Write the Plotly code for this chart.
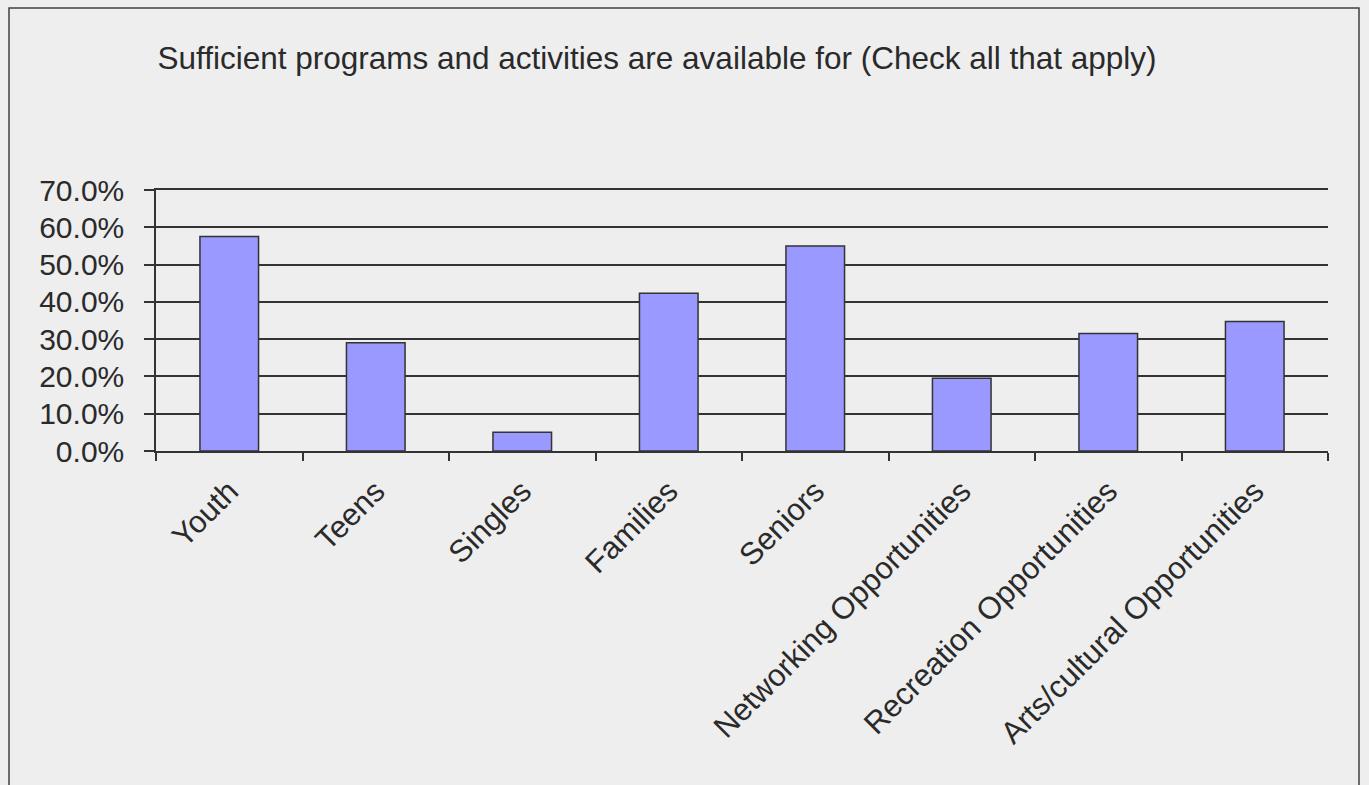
import plotly.graph_objects as go

# Survey responses: share of respondents checking each group
categories = [
    "Youth",
    "Teens",
    "Singles",
    "Families",
    "Seniors",
    "Networking Opportunities",
    "Recreation Opportunities",
    "Arts/cultural Opportunities",
]
shares = [0.575, 0.290, 0.050, 0.423, 0.550, 0.195, 0.315, 0.347]

y_ticks = [0.0, 0.1, 0.2, 0.3, 0.4, 0.5, 0.6, 0.7]

title_text = "Sufficient programs and activities are available for (Check all that apply)"

FONT = "Liberation Sans, Arial, sans-serif"
INK = "#2a2a2a"
LINE = "#333333"
BG = "#eeeeee"

W, H = 1369, 785
L, R, T, B = 156, 41, 190, 334
pw, ph = W - L - R, H - T - B

fig = go.Figure(
    go.Bar(
        x=categories,
        y=shares,
        width=0.4,
        marker=dict(color="#9999ff", line=dict(color=LINE, width=1.5)),
        hoverinfo="x+y",
    )
)

# Outer chart frame (left, top and right edges visible)
def px_to_paper_x(px):
    return (px - L) / pw

def px_to_paper_y(py):
    return (H - B - py) / ph

fig.add_shape(
    type="rect",
    xref="paper",
    yref="paper",
    x0=px_to_paper_x(9),
    x1=px_to_paper_x(1359),
    y0=px_to_paper_y(820),
    y1=px_to_paper_y(8),
    line=dict(color="#404040", width=1.5),
    fillcolor="rgba(0,0,0,0)",
    layer="below",
)

fig.update_layout(
    width=W,
    height=H,
    margin=dict(l=L, r=R, t=T, b=B, autoexpand=False),
    paper_bgcolor=BG,
    plot_bgcolor=BG,
    showlegend=False,
    font=dict(family=FONT, size=30, color=INK),
    title=dict(
        text=title_text,
        x=657 / W,
        xref="container",
        xanchor="center",
        y=1 - 58 / H,
        yref="container",
        yanchor="middle",
        font=dict(family=FONT, size=31.5, color=INK),
    ),
    bargap=0.6,
)

fig.update_xaxes(
    type="category",
    tickangle=-45,
    showline=True,
    mirror=True,
    linecolor=LINE,
    linewidth=1.5,
    ticks="outside",
    tickson="boundaries",
    ticklen=8,
    tickwidth=1.5,
    tickcolor=LINE,
    showgrid=False,
    ticklabelstandoff=8,
    tickfont=dict(family=FONT, size=31, color=INK),
)

fig.update_yaxes(
    range=[0, 0.7],
    tickvals=y_ticks,
    tickformat=".1%",
    showline=True,
    linecolor=LINE,
    linewidth=1.5,
    ticks="outside",
    ticklen=10,
    tickwidth=1.5,
    tickcolor=LINE,
    showgrid=True,
    gridcolor=LINE,
    gridwidth=1.5,
    zeroline=False,
    ticklabelstandoff=14,
    tickfont=dict(family=FONT, size=30, color=INK),
)

fig.write_html("out.html")
